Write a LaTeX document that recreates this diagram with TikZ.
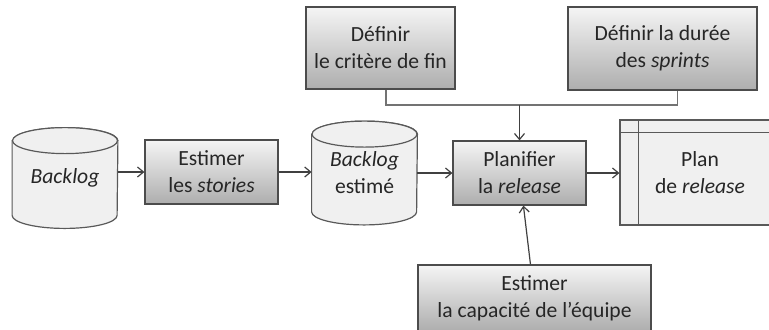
\documentclass[tikz,border=0pt]{standalone}
\usepackage{fontspec}
\setmainfont{Carlito}
\usetikzlibrary{positioning,arrows.meta,backgrounds}

\tikzset{
  txt/.style={font=\fontsize{10.8}{13.5}\selectfont, text=black!85, align=center},
  stepbox/.style={txt, draw=black!70, line width=0.6pt, top color=black!4, bottom color=black!32,
    minimum width=66.5pt, minimum height=32pt, inner sep=2pt},
  store/.style={txt, minimum width=52.5pt, minimum height=50pt, inner sep=2pt},
  cyl/.style={draw=black!65, line width=0.6pt, fill=black!6},
  flow/.style={draw=black!75, line width=0.6pt, -{Straight Barb[length=3pt,width=5pt]}},
  link/.style={draw=black!55, line width=0.6pt},
}

\begin{document}
\begin{tikzpicture}[x=0.5pt,y=-0.5pt]
\useasboundingbox (0,0) rectangle (769,329);
\clip (0,0) rectangle (769,329);

% process boxes
\node[stepbox] (estime) at (211.5,172) {Estimer\\les \emph{stories}};
\node[stepbox] (planif) at (519.5,173) {Planifier\\la \emph{release}};
\node[stepbox, minimum width=74.5pt, minimum height=41pt] (critere) at (380.5,48) {Définir\\le critère de fin};
\node[stepbox, minimum width=94.5pt, minimum height=41.5pt] (duree) at (662.5,48.5) {Définir la durée\\des \emph{sprints}};
\node[stepbox, minimum width=116.5pt, minimum height=33pt] (capa) at (534.5,298) {Estimer\\la capacité de l’équipe};

% data stores (cylinders)
\node[store] (backlog) at (65,178) {\emph{Backlog}};
\node[store, minimum height=51.5pt] (blogest) at (364.5,173) {\emph{Backlog}\\estimé};
\begin{scope}[on background layer]
\foreach \s in {backlog,blogest} {
  \draw[cyl] ([yshift=-6.5pt]\s.north west) -- ([yshift=6.5pt]\s.south west)
    arc[start angle=180, end angle=360, x radius=26.25pt, y radius=6.5pt]
    -- ([yshift=-6.5pt]\s.north east)
    arc[start angle=0, end angle=180, x radius=26.25pt, y radius=6.5pt] -- cycle;
  \draw[cyl] ([yshift=-6.5pt]\s.north) ellipse[x radius=26.25pt, y radius=6.5pt];
}
\end{scope}

% release plan (document)
\node[store, cyl, minimum width=80pt, minimum height=52.5pt] (planrel) at (700,172.5) {Plan\\de \emph{release}};
\draw[cyl] ([xshift=9.5pt]planrel.north west) -- ([xshift=9.5pt]planrel.south west);
\draw[cyl] ([yshift=-6.5pt]planrel.north west) -- ([yshift=-6.5pt]planrel.north east);

% main flow
\draw[flow] (backlog.east |- estime) -- (estime);
\draw[flow] (estime) -- (estime -| blogest.west);
\draw[flow] (blogest.east |- planif) -- (planif);
\draw[flow] (planif) -- (planif -| planrel.west);

% inputs to the planning
\coordinate (merge) at (planif.north |- 0,105);
\draw[link] ([xshift=2.75pt]critere.south) |- (merge) -| ([xshift=7.5pt]duree.south);
\draw[flow] (merge) -- (planif);
\draw[flow] (capa) -- (planif);

\end{tikzpicture}
\end{document}
